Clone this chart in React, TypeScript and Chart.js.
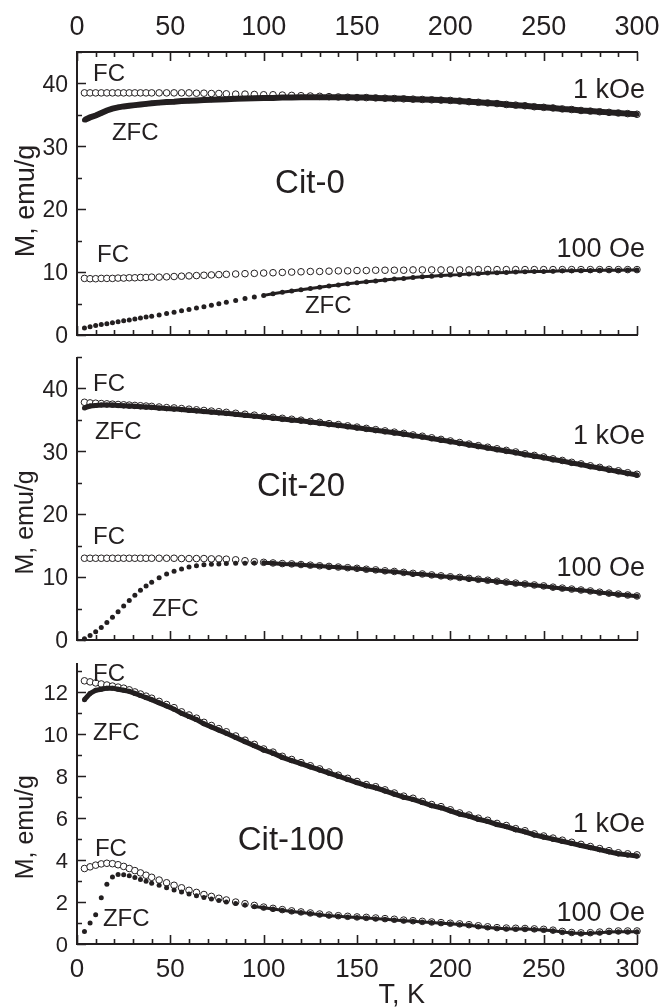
import React, { useEffect, useRef } from 'react';
import { Chart, registerables } from 'chart.js';

Chart.register(...registerables);

// Temperature grid shared by all curves (K)
const temperatureK = [
  4, 7, 10, 13, 16, 19, 22, 25, 28, 31, 34, 37, 40,
  44, 48, 52, 56, 60, 64, 68, 72, 76, 80,
  85, 90, 95,
  100, 105, 110, 115, 120, 125, 130, 135, 140, 145,
  150, 155, 160, 165, 170, 175, 180, 185, 190, 195,
  200, 205, 210, 215, 220, 225, 230, 235, 240, 245,
  250, 255, 260, 265, 270, 275, 280, 285, 290, 295,
  300,
];

// Axis tick values
const xTicksK = [0, 10, 20, 30, 40, 50, 60, 70, 80, 90, 100, 110, 120, 130, 140, 150, 160, 170, 180, 190, 200, 210, 220, 230, 240, 250, 260, 270, 280, 290, 300];
const xTickLabels = ['0', '50', '100', '150', '200', '250', '300'];
const yTicksWide = [0, 5, 10, 15, 20, 25, 30, 35, 40, 45];
const yLabelsWide = ['0', '10', '20', '30', '40'];
const yTicksNarrow = [0, 1, 2, 3, 4, 5, 6, 7, 8, 9, 10, 11, 12, 13];
const yLabelsNarrow = ['0', '2', '4', '6', '8', '10', '12'];

// ---- Cit-0 (emu/g) ----
const cit0Zfc1kOe = [
  34.2, 34.6, 34.9, 35.3, 35.7, 36.0, 36.2, 36.35, 36.45, 36.55, 36.65, 36.75, 36.85,
  36.95, 37.05, 37.1, 37.2, 37.25, 37.3, 37.35, 37.4, 37.45, 37.5,
  37.55, 37.6, 37.65,
  37.7, 37.7, 37.75, 37.75, 37.8, 37.8, 37.8, 37.8, 37.8, 37.8,
  37.75, 37.75, 37.7, 37.65, 37.6, 37.55, 37.5, 37.45, 37.4, 37.35,
  37.3, 37.2, 37.1, 37.0, 36.9, 36.8, 36.65, 36.55, 36.45, 36.3,
  36.2, 36.1, 35.95, 35.85, 35.7, 35.6, 35.5, 35.4, 35.3, 35.2,
  35.1,
];
const cit0Fc1kOe = [
  38.5, 38.5, 38.5, 38.5, 38.5, 38.5, 38.5, 38.5, 38.5, 38.5, 38.5, 38.5, 38.5,
  38.5, 38.5, 38.5, 38.5, 38.5, 38.45, 38.45, 38.4, 38.4, 38.35,
  38.3, 38.3, 38.25,
  38.2, 38.2, 38.15, 38.1, 38.05, 38.0, 37.95, 37.9, 37.85, 37.8,
  37.75, 37.75, 37.7, 37.65, 37.6, 37.55, 37.5, 37.45, 37.4, 37.35,
  37.3, 37.2, 37.1, 37.0, 36.9, 36.8, 36.65, 36.55, 36.45, 36.3,
  36.2, 36.1, 35.95, 35.85, 35.7, 35.6, 35.5, 35.4, 35.3, 35.2,
  35.1,
];
const cit0Zfc100Oe = [
  1.1, 1.3, 1.5, 1.65, 1.8, 1.95, 2.1, 2.25, 2.4, 2.55, 2.7, 2.85, 3.0,
  3.2, 3.4, 3.6, 3.85, 4.05, 4.3, 4.5, 4.75, 4.95, 5.2,
  5.5, 5.8, 6.05,
  6.3, 6.55, 6.8, 7.0, 7.2, 7.4, 7.6, 7.8, 7.95, 8.15,
  8.3, 8.45, 8.6, 8.75, 8.9, 9.0, 9.15, 9.25, 9.35, 9.45,
  9.55, 9.6, 9.7, 9.75, 9.85, 9.9, 9.95, 10.0, 10.05, 10.1,
  10.1, 10.15, 10.2, 10.2, 10.25, 10.25, 10.3, 10.3, 10.3, 10.35,
  10.35,
];
const cit0Fc100Oe = [
  9.0, 8.95, 8.95, 9.0, 9.0, 9.0, 9.05, 9.05, 9.1, 9.1, 9.15, 9.15, 9.2,
  9.2, 9.25, 9.3, 9.35, 9.4, 9.45, 9.5, 9.55, 9.6, 9.65,
  9.7, 9.75, 9.8,
  9.85, 9.9, 9.95, 10.0, 10.05, 10.1, 10.1, 10.15, 10.2, 10.2,
  10.25, 10.25, 10.3, 10.3, 10.3, 10.3, 10.35, 10.35, 10.35, 10.35,
  10.35, 10.35, 10.35, 10.4, 10.4, 10.4, 10.4, 10.4, 10.4, 10.4,
  10.4, 10.4, 10.4, 10.4, 10.4, 10.4, 10.4, 10.4, 10.4, 10.4,
  10.4,
];

// ---- Cit-20 (emu/g) ----
const cit20Zfc1kOe = [
  36.9, 37.2, 37.3, 37.35, 37.35, 37.35, 37.3, 37.25, 37.2, 37.15, 37.1, 37.05, 37.0,
  36.9, 36.8, 36.75, 36.65, 36.55, 36.45, 36.35, 36.25, 36.15, 36.05,
  35.9, 35.75, 35.6,
  35.45, 35.3, 35.15, 35.0, 34.85, 34.65, 34.5, 34.3, 34.15, 33.95,
  33.75, 33.55, 33.35, 33.15, 32.95, 32.75, 32.5, 32.3, 32.05, 31.8,
  31.55, 31.3, 31.05, 30.8, 30.55, 30.3, 30.05, 29.8, 29.5, 29.25,
  29.0, 28.7, 28.45, 28.15, 27.9, 27.6, 27.35, 27.05, 26.8, 26.5,
  26.25,
];
const cit20Fc1kOe = [
  37.8, 37.7, 37.65, 37.6, 37.55, 37.5, 37.45, 37.4, 37.35, 37.3, 37.25, 37.2, 37.15,
  37.05, 36.95, 36.9, 36.8, 36.7, 36.6, 36.5, 36.4, 36.3, 36.2,
  36.05, 35.9, 35.75,
  35.55, 35.4, 35.25, 35.1, 34.95, 34.75, 34.6, 34.4, 34.25, 34.05,
  33.85, 33.65, 33.45, 33.25, 33.05, 32.85, 32.6, 32.4, 32.15, 31.9,
  31.65, 31.4, 31.15, 30.9, 30.65, 30.4, 30.15, 29.9, 29.6, 29.35,
  29.1, 28.8, 28.55, 28.25, 28.0, 27.7, 27.45, 27.15, 26.9, 26.6,
  26.35,
];
const cit20Zfc100Oe = [
  0.2, 0.7, 1.3, 2.0, 2.8, 3.6, 4.5, 5.4, 6.3, 7.1, 7.9, 8.6, 9.2,
  9.9, 10.5, 10.95, 11.3, 11.6, 11.8, 11.95, 12.05, 12.1, 12.15,
  12.2, 12.2, 12.25,
  12.3, 12.2, 12.1, 12.05, 11.95, 11.85, 11.75, 11.65, 11.55, 11.45,
  11.35, 11.2, 11.1, 10.95, 10.85, 10.7, 10.55, 10.45, 10.3, 10.15,
  10.0, 9.9, 9.75, 9.6, 9.45, 9.3, 9.15, 9.0, 8.85, 8.7,
  8.55, 8.35, 8.2, 8.05, 7.9, 7.75, 7.55, 7.4, 7.25, 7.1,
  6.95,
];
const cit20Fc100Oe = [
  13.0, 13.0, 13.0, 13.0, 13.0, 13.0, 13.0, 13.0, 13.0, 13.0, 13.0, 13.0, 13.0,
  13.0, 13.0, 13.0, 12.95, 12.95, 12.95, 12.95, 12.9, 12.9, 12.85,
  12.75, 12.6, 12.45,
  12.35, 12.25, 12.15, 12.1, 12.0, 11.9, 11.8, 11.7, 11.6, 11.5,
  11.4, 11.25, 11.15, 11.0, 10.9, 10.75, 10.6, 10.5, 10.35, 10.2,
  10.05, 9.95, 9.8, 9.65, 9.5, 9.35, 9.2, 9.05, 8.9, 8.75,
  8.6, 8.4, 8.25, 8.1, 7.95, 7.8, 7.6, 7.45, 7.3, 7.15,
  7.0,
];

// ---- Cit-100 (emu/g) ----
const cit100Zfc1kOe = [
  11.65, 11.95, 12.1, 12.15, 12.2, 12.2, 12.15, 12.1, 12.05, 11.95, 11.85, 11.75, 11.65,
  11.5, 11.35, 11.2, 11.0, 10.85, 10.7, 10.5, 10.35, 10.2, 10.05,
  9.85, 9.65, 9.45,
  9.25, 9.1, 8.9, 8.75, 8.6, 8.45, 8.3, 8.15, 8.0, 7.85,
  7.7, 7.55, 7.45, 7.3, 7.15, 7.0, 6.9, 6.75, 6.6, 6.5,
  6.35, 6.2, 6.1, 5.95, 5.85, 5.7, 5.6, 5.45, 5.35, 5.2,
  5.1, 5.0, 4.9, 4.8, 4.7, 4.6, 4.5, 4.4, 4.3, 4.25,
  4.2,
];
const cit100Fc1kOe = [
  12.55, 12.5, 12.45, 12.4, 12.35, 12.3, 12.25, 12.2, 12.12, 12.02, 11.92, 11.82, 11.72,
  11.57, 11.42, 11.27, 11.07, 10.92, 10.77, 10.57, 10.42, 10.27, 10.12,
  9.92, 9.72, 9.52,
  9.3, 9.15, 8.95, 8.8, 8.65, 8.5, 8.35, 8.2, 8.05, 7.9,
  7.75, 7.6, 7.5, 7.35, 7.2, 7.05, 6.95, 6.8, 6.65, 6.55,
  6.4, 6.25, 6.15, 6.0, 5.9, 5.75, 5.65, 5.5, 5.4, 5.25,
  5.15, 5.05, 4.95, 4.85, 4.75, 4.65, 4.55, 4.45, 4.35, 4.3,
  4.25,
];
const cit100Zfc100Oe = [
  0.6, 1.0, 1.4, 2.2, 2.85, 3.2, 3.32, 3.3, 3.25, 3.17, 3.08, 2.99, 2.9,
  2.8, 2.68, 2.58, 2.48, 2.38, 2.3, 2.22, 2.15, 2.08, 2.0,
  1.93, 1.86, 1.79,
  1.73, 1.67, 1.61, 1.55, 1.5, 1.45, 1.4, 1.35, 1.32, 1.29,
  1.26, 1.24, 1.21, 1.18, 1.15, 1.11, 1.08, 1.05, 1.02, 0.99,
  0.96, 0.93, 0.89, 0.84, 0.79, 0.75, 0.73, 0.72, 0.71, 0.69,
  0.67, 0.63, 0.57, 0.52, 0.5, 0.51, 0.54, 0.57, 0.59, 0.59,
  0.59,
];
const cit100Fc100Oe = [
  3.6, 3.68, 3.76, 3.82, 3.85, 3.83, 3.78, 3.7, 3.6, 3.5, 3.39, 3.28, 3.18,
  3.05, 2.92, 2.8, 2.68, 2.56, 2.46, 2.36, 2.27, 2.18, 2.1,
  2.0, 1.92, 1.84,
  1.76, 1.7, 1.64, 1.58, 1.53, 1.48, 1.43, 1.38, 1.35, 1.32,
  1.29, 1.27, 1.24, 1.21, 1.18, 1.14, 1.11, 1.08, 1.05, 1.02,
  0.99, 0.96, 0.92, 0.87, 0.82, 0.78, 0.76, 0.75, 0.74, 0.72,
  0.7, 0.66, 0.6, 0.55, 0.53, 0.54, 0.57, 0.6, 0.62, 0.62,
  0.62,
];

const INK = '#231f20';
const FONT = "'Liberation Sans', Arial, Helvetica, sans-serif";

type Series = {
  label: string;
  values: (number | null)[];
  kind: 'fc' | 'zfc';
  lineFrom?: number;
  lineWidth?: number;
};
type Note = {
  text: string;
  t: number;
  m: number;
  size: number;
  align: CanvasTextAlign;
  rotate?: boolean;
};
type PanelCfg = {
  top: number;
  height: number;
  padTop: number;
  padBottom: number;
  xLabels: 'top' | 'bottom' | 'none';
  topAxis: boolean;
  yMax: number;
  yTicks: number[];
  yLabels: string[];
  yFont: number;
  series: Series[];
  notes: Note[];
};

const panels: PanelCfg[] = [
  {
    top: 0,
    height: 345,
    padTop: 52,
    padBottom: 10,
    xLabels: 'top',
    topAxis: true,
    yMax: 45,
    yTicks: yTicksWide,
    yLabels: yLabelsWide,
    yFont: 23,
    series: [
      { label: 'ZFC 1 kOe', values: cit0Zfc1kOe, kind: 'zfc', lineFrom: 0, lineWidth: 6 },
      { label: 'ZFC 100 Oe', values: cit0Zfc100Oe, kind: 'zfc', lineFrom: 100, lineWidth: 3 },
      { label: 'FC 1 kOe', values: cit0Fc1kOe, kind: 'fc' },
      { label: 'FC 100 Oe', values: cit0Fc100Oe, kind: 'fc' },
    ],
    notes: [
      { text: 'FC', t: 8.6, m: 41.7, size: 24, align: 'left' },
      { text: 'ZFC', t: 18.7, m: 32.3, size: 24, align: 'left' },
      { text: 'Cit-0', t: 124.8, m: 24.4, size: 33, align: 'center' },
      { text: '1 kOe', t: 304.3, m: 39.2, size: 27, align: 'right' },
      { text: 'FC', t: 10.7, m: 12.9, size: 24, align: 'left' },
      { text: '100 Oe', t: 304.3, m: 14.0, size: 27, align: 'right' },
      { text: 'ZFC', t: 122.1, m: 4.8, size: 24, align: 'left' },
      { text: 'M, emu/g', t: -28.1, m: 21.3, size: 27, align: 'center', rotate: true },
    ],
  },
  {
    top: 345,
    height: 305,
    padTop: 12,
    padBottom: 10,
    xLabels: 'none',
    topAxis: false,
    yMax: 45,
    yTicks: yTicksWide,
    yLabels: yLabelsWide,
    yFont: 23,
    series: [
      { label: 'ZFC 1 kOe', values: cit20Zfc1kOe, kind: 'zfc', lineFrom: 0, lineWidth: 5 },
      { label: 'ZFC 100 Oe', values: cit20Zfc100Oe, kind: 'zfc', lineFrom: 100, lineWidth: 4 },
      { label: 'FC 1 kOe', values: cit20Fc1kOe, kind: 'fc' },
      { label: 'FC 100 Oe', values: cit20Fc100Oe, kind: 'fc' },
    ],
    notes: [
      { text: 'FC', t: 8.6, m: 40.95, size: 24, align: 'left' },
      { text: 'ZFC', t: 9.6, m: 33.3, size: 24, align: 'left' },
      { text: 'Cit-20', t: 120, m: 24.8, size: 33, align: 'center' },
      { text: '1 kOe', t: 304.3, m: 32.7, size: 27, align: 'right' },
      { text: 'FC', t: 8.6, m: 16.7, size: 24, align: 'left' },
      { text: 'ZFC', t: 40.2, m: 5.2, size: 24, align: 'left' },
      { text: '100 Oe', t: 304.3, m: 11.7, size: 27, align: 'right' },
      { text: 'M, emu/g', t: -28.1, m: 18.7, size: 25, align: 'center', rotate: true },
    ],
  },
  {
    top: 650,
    height: 358,
    padTop: 13,
    padBottom: 64,
    xLabels: 'bottom',
    topAxis: false,
    yMax: 13.4,
    yTicks: yTicksNarrow,
    yLabels: yLabelsNarrow,
    yFont: 22,
    series: [
      { label: 'ZFC 1 kOe', values: cit100Zfc1kOe, kind: 'zfc', lineFrom: 0, lineWidth: 5 },
      { label: 'ZFC 100 Oe', values: cit100Zfc100Oe, kind: 'zfc', lineFrom: 95, lineWidth: 3 },
      { label: 'FC 1 kOe', values: cit100Fc1kOe, kind: 'fc' },
      { label: 'FC 100 Oe', values: cit100Fc100Oe, kind: 'fc' },
    ],
    notes: [
      { text: 'FC', t: 8.6, m: 12.95, size: 24, align: 'left' },
      { text: 'ZFC', t: 8.6, m: 10.14, size: 24, align: 'left' },
      { text: 'Cit-100', t: 114.6, m: 5.05, size: 33, align: 'center' },
      { text: '1 kOe', t: 304.3, m: 5.8, size: 27, align: 'right' },
      { text: 'FC', t: 9.6, m: 4.62, size: 24, align: 'left' },
      { text: 'ZFC', t: 13.9, m: 1.29, size: 24, align: 'left' },
      { text: '100 Oe', t: 304.3, m: 1.57, size: 27, align: 'right' },
      { text: 'T, K', t: 174, m: -2.33, size: 27, align: 'center' },
      { text: 'M, emu/g', t: -28.1, m: 5.57, size: 25, align: 'center', rotate: true },
    ],
  },
];

// draw text so that the middle of the capital height sits at (x, y)
function drawText(
  ctx: CanvasRenderingContext2D,
  text: string,
  x: number,
  y: number,
  size: number,
  align: CanvasTextAlign,
  rotate = false,
) {
  ctx.font = `${size}px ${FONT}`;
  ctx.textAlign = align;
  ctx.textBaseline = 'alphabetic';
  const off = 0.358 * size;
  if (rotate) {
    ctx.save();
    ctx.translate(x, y);
    ctx.rotate(-Math.PI / 2);
    ctx.fillText(text, 0, off);
    ctx.restore();
  } else {
    ctx.fillText(text, x, y + off);
  }
}

function makeFramePlugin(cfg: PanelCfg) {
  return {
    id: 'panelFrame',
    afterDraw(chart: any) {
      const { ctx, chartArea } = chart;
      const xs = chart.scales.x;
      const ys = chart.scales.y;
      const { left, right, top, bottom } = chartArea;
      ctx.save();
      ctx.strokeStyle = INK;
      ctx.fillStyle = INK;
      ctx.lineCap = 'butt';
      // axis lines
      ctx.lineWidth = 2;
      ctx.beginPath();
      ctx.moveTo(left, top);
      ctx.lineTo(left, bottom);
      ctx.moveTo(left - 1, bottom);
      ctx.lineTo(right + 1, bottom);
      if (cfg.topAxis) {
        ctx.moveTo(left - 1, top);
        ctx.lineTo(right + 1, top);
      }
      ctx.stroke();
      // x ticks (inward)
      ctx.lineWidth = 1.6;
      ctx.beginPath();
      for (const v of xTicksK) {
        const px = Math.round(xs.getPixelForValue(v)) + 0.5;
        const len = v % 50 === 0 ? 9 : 5;
        ctx.moveTo(px, bottom);
        ctx.lineTo(px, bottom - len);
        if (cfg.topAxis) {
          ctx.moveTo(px, top);
          ctx.lineTo(px, top + len);
        }
      }
      // y ticks (inward)
      for (const v of cfg.yTicks) {
        const py = Math.round(ys.getPixelForValue(v)) + 0.5;
        const major = cfg.yLabels.includes(String(v));
        const len = major ? 9 : 5;
        ctx.moveTo(left, py);
        ctx.lineTo(left + len, py);
      }
      ctx.stroke();
      // tick labels
      for (const lab of cfg.yLabels) {
        const py = ys.getPixelForValue(Number(lab));
        drawText(ctx, lab, left - 9, py, cfg.yFont, 'right');
      }
      if (cfg.xLabels !== 'none') {
        for (const lab of xTickLabels) {
          const px = xs.getPixelForValue(Number(lab));
          if (cfg.xLabels === 'top') drawText(ctx, lab, px, top - 27, 27, 'center');
          else drawText(ctx, lab, px, bottom + 24, 26, 'center');
        }
      }
      // text annotations
      for (const note of cfg.notes) {
        const x = xs.getPixelForValue(note.t);
        const y = ys.getPixelForValue(note.m);
        drawText(ctx, note.text, x, y, note.size, note.align, note.rotate);
      }
      ctx.restore();
    },
  };
}

function Panel({ cfg }: { cfg: PanelCfg }) {
  const ref = useRef<HTMLCanvasElement | null>(null);
  useEffect(() => {
    if (!ref.current) return;
    const datasets = cfg.series.map((s) => {
      const data = temperatureK.map((t, i) => ({ x: t, y: s.values[i] }));
      const isFc = s.kind === 'fc';
      const lineFrom = s.lineFrom;
      return {
        label: s.label,
        data,
        showLine: lineFrom !== undefined,
        borderColor: INK,
        borderWidth: s.lineWidth ?? 0,
        tension: 0,
        clip: false as any,
        segment:
          lineFrom !== undefined
            ? {
                borderColor: (c: any) => (c.p0.parsed.x >= lineFrom ? INK : 'rgba(0,0,0,0)'),
              }
            : undefined,
        pointStyle: 'circle',
        pointRadius: isFc ? 3.3 : 2.5,
        pointBorderWidth: isFc ? 1 : 0,
        pointBorderColor: INK,
        pointBackgroundColor: isFc ? '#ffffff' : INK,
      };
    });

    const chart = new Chart(ref.current, {
      type: 'line',
      data: { datasets: datasets as any },
      plugins: [makeFramePlugin(cfg)],
      options: {
        animation: false,
        responsive: false,
        maintainAspectRatio: false,
        devicePixelRatio: 1,
        events: [],
        layout: {
          padding: { left: 77, right: 25, top: cfg.padTop, bottom: cfg.padBottom },
        },
        plugins: {
          legend: { display: false },
          tooltip: { enabled: false },
        },
        scales: {
          x: { type: 'linear', display: false, min: 0, max: 300 },
          y: { type: 'linear', display: false, min: 0, max: cfg.yMax },
        },
      } as any,
    });
    return () => chart.destroy();
  }, [cfg]);

  return (
    <canvas
      ref={ref}
      width={662}
      height={cfg.height}
      style={{ position: 'absolute', left: 0, top: cfg.top, width: 662, height: cfg.height }}
    />
  );
}

export default function App() {
  return (
    <div
      style={{
        position: 'fixed',
        left: 0,
        top: 0,
        width: 662,
        height: 1008,
        background: '#ffffff',
        overflow: 'hidden',
      }}
    >
      {panels.map((p, i) => (
        <Panel key={i} cfg={p} />
      ))}
    </div>
  );
}
